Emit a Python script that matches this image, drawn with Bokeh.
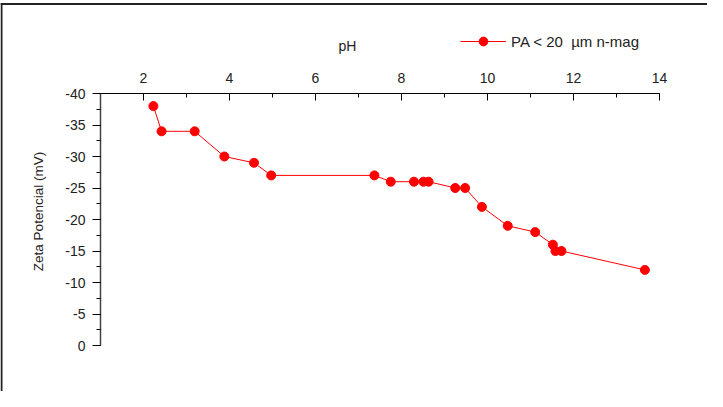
import math
from bokeh.plotting import figure
from bokeh.models import (Range1d, SingleIntervalTicker, LinearAxis, Legend,
                          LegendItem, Label, PrintfTickFormatter)
from bokeh.embed import file_html
from bokeh.resources import INLINE

# data
ph = [2.23, 2.42, 3.19, 3.88, 4.57, 4.97, 7.37, 7.75, 8.29, 8.51, 8.63,
      9.25, 9.48, 9.87, 10.47, 11.11, 11.52, 11.58, 11.72, 13.66]
zeta = [-38, -34, -34, -30, -29, -27, -27, -26, -26, -26, -26,
        -25, -25, -22, -19, -18, -16, -15, -15, -12]
series_name = "PA < 20  \u00b5m n-mag"
x_label = "pH"
y_label = "Zeta Potencial (mV)"

X_MIN, X_MAX = 1, 14
Y_MIN, Y_MAX = -40, 0

FONT = "Liberation Sans"
TXT = "#222222"

# layout in canvas pixels (the frame covers the whole canvas)
W, H = 707, 391
AX_L, AX_R = 100, 659      # pixel columns of pH 1 and pH 14
AX_T, AX_B = 93, 345       # pixel rows of -40 and 0

xpp = (X_MAX - X_MIN) / (AX_R - AX_L)
ypp = (Y_MAX - Y_MIN) / (AX_B - AX_T)
x_start = X_MIN - AX_L * xpp
x_end = X_MAX + (W - AX_R) * xpp
y_top = Y_MIN - AX_T * ypp
y_bot = Y_MAX + (H - AX_B) * ypp


def dx(px):
    return x_start + px * xpp


def dy(py):
    return y_top + py * ypp


p = figure(width=W, height=H, output_backend="svg", toolbar_location=None,
           x_range=Range1d(x_start, x_end), y_range=Range1d(y_bot, y_top),
           x_axis_location=None, y_axis_location=None,
           min_border=0, min_border_left=0, min_border_right=0,
           min_border_top=0, min_border_bottom=0)
p.xgrid.visible = False
p.ygrid.visible = False
p.outline_line_alpha = 0

# page frame (top and left edges)
p.line([dx(0), dx(W)], [dy(3.5), dy(3.5)], line_color="#222222", line_width=2)
p.line([dx(1), dx(1)], [dy(2.5), dy(H)], line_color="#222222", line_width=2)

xaxis = LinearAxis(ticker=SingleIntervalTicker(interval=2, num_minor_ticks=2),
                   fixed_location=Y_MIN, bounds=(X_MIN, X_MAX),
                   formatter=PrintfTickFormatter(format="%d"))
xaxis.major_tick_in = 7
xaxis.major_tick_out = 0
xaxis.minor_tick_in = 4
xaxis.minor_tick_out = 0
xaxis.major_label_standoff = 11
xaxis.axis_line_color = "black"
xaxis.major_tick_line_color = "black"
xaxis.minor_tick_line_color = "black"
xaxis.major_label_text_font = FONT
xaxis.major_label_text_font_size = "14px"
xaxis.major_label_text_color = TXT
p.add_layout(xaxis, "above")

yaxis = LinearAxis(ticker=SingleIntervalTicker(interval=5, num_minor_ticks=2),
                   fixed_location=X_MIN, bounds=(Y_MIN, Y_MAX),
                   formatter=PrintfTickFormatter(format="%d"))
yaxis.major_tick_in = 0
yaxis.major_tick_out = 8
yaxis.minor_tick_in = 0
yaxis.minor_tick_out = 4
yaxis.major_label_standoff = 7
yaxis.axis_line_color = "#444444"
yaxis.axis_line_width = 1.5
yaxis.major_tick_line_color = "black"
yaxis.minor_tick_line_color = "black"
yaxis.major_label_text_font = FONT
yaxis.major_label_text_font_size = "14px"
yaxis.major_label_text_color = TXT
p.add_layout(yaxis, "left")

p.add_layout(Label(x=dx(347), y=dy(45), text=x_label, text_align="center",
                   text_baseline="middle", text_font=FONT,
                   text_font_size="14px", text_color=TXT))
p.add_layout(Label(x=dx(37.5), y=dy(211), text=y_label, angle=math.pi / 2,
                   text_align="center", text_baseline="middle", text_font=FONT,
                   text_font_size="13.5px", text_color=TXT))

ln = p.line(ph, zeta, line_color="#ff0000", line_width=1)
sc = p.scatter(ph, zeta, size=9, fill_color="#ff0000", line_color="#ff0000")

legend = Legend(items=[LegendItem(label=series_name, renderers=[ln, sc])],
                location=(460, H - 52), orientation="horizontal",
                glyph_width=46, glyph_height=22, label_height=22,
                label_standoff=5, padding=0, margin=0, spacing=0,
                border_line_alpha=0, background_fill_alpha=0,
                label_text_font=FONT, label_text_font_size="15px",
                label_text_color=TXT)
p.add_layout(legend, "center")

open("out.html", "w").write(file_html(p, INLINE))
